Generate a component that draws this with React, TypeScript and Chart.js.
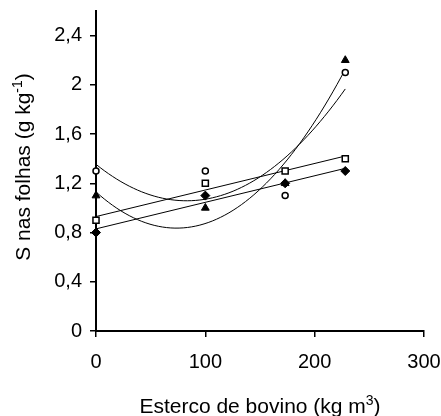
import React, { useEffect, useRef } from "react";
import { Chart, registerables } from "chart.js";

Chart.register(...registerables);

// ---- data ----
const doses = [0, 100, 173, 228];
const sCircle = [1.3, 1.3, 1.1, 2.1];
const sTriangle = [1.1, 1.0, 1.2, 2.2];
const sSquare = [0.9, 1.2, 1.3, 1.4];
const sDiamond = [0.8, 1.1, 1.2, 1.3];
const xTicks = [0, 100, 200, 300];
const yTicks = [0, 0.4, 0.8, 1.2, 1.6, 2, 2.4];
const xTitleParts = ["Esterco de bovino (kg m", "3", ")"];
const yTitleParts = ["S nas folhas (g kg", "-1", ")"];

const FONT = "'Liberation Sans', Arial, sans-serif";

// least-squares polynomial fit (trend line, as in the original spreadsheet)
function polyfit(xs: number[], ys: number[], deg: number): number[] {
  const n = deg + 1;
  const A: number[][] = [];
  for (let i = 0; i < n; i++) {
    const row: number[] = [];
    for (let j = 0; j < n; j++) {
      let s = 0;
      for (const x of xs) s += Math.pow(x, i + j);
      row.push(s);
    }
    let b = 0;
    xs.forEach((x, k) => (b += Math.pow(x, i) * ys[k]));
    row.push(b);
    A.push(row);
  }
  for (let c = 0; c < n; c++) {
    let p = c;
    for (let r = c + 1; r < n; r++) if (Math.abs(A[r][c]) > Math.abs(A[p][c])) p = r;
    [A[c], A[p]] = [A[p], A[c]];
    for (let r = 0; r < n; r++) {
      if (r === c) continue;
      const f = A[r][c] / A[c][c];
      for (let k = c; k <= n; k++) A[r][k] -= f * A[c][k];
    }
  }
  return A.map((row, i) => row[n] / row[i]);
}

function trend(ys: number[], deg: number) {
  const coef = polyfit(doses, ys, deg);
  const x0 = doses[0];
  const x1 = doses[doses.length - 1];
  const steps = deg === 1 ? 1 : 60;
  const pts: { x: number; y: number }[] = [];
  for (let i = 0; i <= steps; i++) {
    const x = x0 + ((x1 - x0) * i) / steps;
    let y = 0;
    coef.forEach((c, k) => (y += c * Math.pow(x, k)));
    pts.push({ x, y });
  }
  return pts;
}

const pts = (ys: number[]) => doses.map((x, i) => ({ x, y: ys[i] }));

const fmt = (v: number) => String(Number(v.toFixed(1))).replace(".", ",");

const titlePlugin = {
  id: "supTitles",
  afterDraw(chart: any) {
    const ctx = chart.ctx as CanvasRenderingContext2D;
    const area = chart.chartArea;
    const main = `21px ${FONT}`;
    const sup = `14px ${FONT}`;
    const drawParts = (parts: string[]) => {
      ctx.font = main;
      const w0 = ctx.measureText(parts[0]).width;
      const w2 = ctx.measureText(parts[2]).width;
      ctx.font = sup;
      const w1 = ctx.measureText(parts[1]).width;
      const total = w0 + w1 + w2;
      let x = -total / 2;
      ctx.textAlign = "left";
      ctx.textBaseline = "alphabetic";
      ctx.font = main;
      ctx.fillText(parts[0], x, 0);
      x += w0;
      ctx.font = sup;
      ctx.fillText(parts[1], x, -8);
      x += w1;
      ctx.font = main;
      ctx.fillText(parts[2], x, 0);
    };
    ctx.save();
    ctx.fillStyle = "#000";
    ctx.translate((area.left + area.right) / 2, 413);
    drawParts(xTitleParts);
    ctx.restore();

    ctx.save();
    ctx.fillStyle = "#000";
    ctx.translate(30, (area.top + area.bottom) / 2 - 4);
    ctx.rotate(-Math.PI / 2);
    drawParts(yTitleParts);
    ctx.restore();
  },
};

export default function App() {
  const ref = useRef<HTMLCanvasElement | null>(null);

  useEffect(() => {
    if (!ref.current) return;
    const lineStyle = {
      type: "line" as const,
      borderColor: "#000",
      borderWidth: 1,
      pointRadius: 0,
      fill: false,
      tension: 0,
      clip: false,
    };
    const markerStyle = {
      type: "scatter" as const,
      borderColor: "#000",
      borderWidth: 1.5,
      showLine: false,
      clip: false,
    };
    const chart = new Chart(ref.current, {
      type: "scatter",
      data: {
        datasets: [
          { ...markerStyle, label: "circle", data: pts(sCircle), pointStyle: "circle", pointRadius: 3, backgroundColor: "#fff" },
          { ...markerStyle, label: "square", data: pts(sSquare), pointStyle: "rect", pointRadius: 4.3, backgroundColor: "#fff" },
          { ...markerStyle, label: "triangle", data: pts(sTriangle), pointStyle: "triangle", pointRadius: 4.5, backgroundColor: "#000", borderWidth: 1 },
          { ...markerStyle, label: "diamond", data: pts(sDiamond), pointStyle: "rectRot", pointRadius: 4.5, backgroundColor: "#000", borderWidth: 1 },
          { ...lineStyle, label: "fit circle", data: trend(sCircle, 2) },
          { ...lineStyle, label: "fit triangle", data: trend(sTriangle, 2) },
          { ...lineStyle, label: "fit square", data: trend(sSquare, 1) },
          { ...lineStyle, label: "fit diamond", data: trend(sDiamond, 1) },
        ] as any,
      },
      options: {
        animation: false,
        responsive: false,
        devicePixelRatio: 1,
        layout: { padding: { left: 0, right: 17, top: 11, bottom: 0 } },
        plugins: { legend: { display: false }, tooltip: { enabled: false } },
        scales: {
          x: {
            type: "linear",
            min: 0,
            max: 300,
            afterBuildTicks: (s: any) => {
              s.ticks = xTicks.map((v) => ({ value: v }));
            },
            afterFit: (s: any) => {
              s.height = 85;
              s.paddingLeft = 0;
              s.paddingRight = 0;
            },
            border: { display: true, color: "#000", width: 2 },
            grid: { display: true, drawOnChartArea: false, drawTicks: true, tickLength: 6, color: "#000", lineWidth: 1.5 },
            ticks: { color: "#000", font: { family: FONT, size: 20 }, padding: 13, maxRotation: 0, callback: (v: any) => fmt(Number(v)) },
          },
          y: {
            type: "linear",
            min: 0,
            max: 2.6,
            afterBuildTicks: (s: any) => {
              s.ticks = yTicks.map((v) => ({ value: v }));
            },
            afterFit: (s: any) => {
              s.width = 96;
              s.paddingTop = 0;
              s.paddingBottom = 0;
            },
            border: { display: true, color: "#000", width: 2 },
            grid: { display: true, drawOnChartArea: false, drawTicks: true, tickLength: 6, color: "#000", lineWidth: 1.5 },
            ticks: { color: "#000", font: { family: FONT, size: 20 }, padding: 8, callback: (v: any) => fmt(Number(v)) },
          },
        },
      },
      plugins: [titlePlugin],
    } as any);
    return () => chart.destroy();
  }, []);

  return (
    <div style={{ position: "absolute", left: 0, top: 0, width: 441, height: 416, background: "#fff" }}>
      <canvas ref={ref} width={441} height={416} style={{ width: 441, height: 416, display: "block" }} />
    </div>
  );
}
